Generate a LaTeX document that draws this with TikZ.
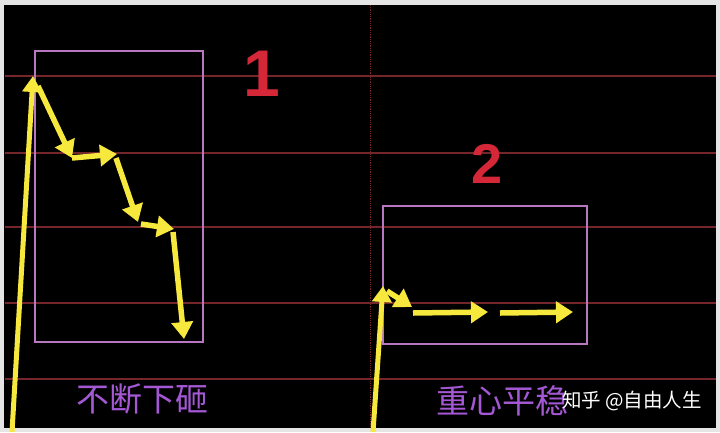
\documentclass[tikz,border=0pt]{standalone}
\usepackage{fontspec}
\setsansfont{Liberation Sans}
\newfontfamily\cjk{Noto Sans CJK SC}
\usetikzlibrary{arrows.meta}
\definecolor{gridred}{HTML}{74262A}
\definecolor{boxpink}{HTML}{B878C0}
\definecolor{arrowyel}{HTML}{F6E83C}
\definecolor{numred}{HTML}{D42838}
\definecolor{labelviolet}{HTML}{A458D4}

\begin{document}
\begin{tikzpicture}[
    x=1pt, y=-1pt,
    gridline/.style={draw=gridred, line width=1.5pt},
    framebox/.style={draw=boxpink, line width=1.6pt},
    yarrow/.style={draw=arrowyel, line width=5.5pt, -{Triangle[length=17pt, width=21pt]}},
    bigarrow/.style={draw=arrowyel, line width=5pt, -{Triangle[length=16pt, width=19pt]}},
    numlabel/.style={text=numred, font=\sffamily\bfseries\fontsize{66}{66}\selectfont},
    cnlabel/.style={text=labelviolet, font=\cjk\fontsize{33}{33}\selectfont},
    mark_style/.style={text=white, font=\cjk\fontsize{19.5}{19.5}\selectfont}
]

% Background
\fill[gray!20] (0,0) rectangle (720,432);
\fill[black] (4,5) rectangle (716,428);
\draw[white!80!gray, densely dotted, line width=1.5pt] (4,3) -- (716,3);
\useasboundingbox (0,0) rectangle (720,432);

% Grid lines
\foreach \y in {76,153,227,303,379}
  \draw[gridline] (5,\y) -- (716,\y);
\draw[gridred, densely dotted, line width=0.8pt] (370,5) -- (370,428);

% Boxes
\draw[framebox] (35,51) rectangle (203,342);
\draw[framebox] (383,206) rectangle (587,344);

% Numbers
\node[numlabel] (one) at (262,74) {1};
\node[numlabel, font=\sffamily\bfseries\fontsize{56}{56}\selectfont] (two) at (487,164) {2};

% Path 1: falling
\coordinate (a0) at (12,432);
\coordinate (a1) at (33,76);
\coordinate (a2) at (38,86);
\coordinate (a3) at (72,158);
\coordinate (a4) at (117,154);
\coordinate (a5) at (116,158);
\coordinate (a6) at (138,222);
\coordinate (a7) at (141,224);
\coordinate (a8) at (174,229);
\coordinate (a9) at (173,232);
\coordinate (a10) at (184,339);

\draw[bigarrow] (a0) -- (a1);
\draw[yarrow] (a2) -- (a3);
\draw[yarrow] (a3) -- (a4);
\draw[yarrow] (a5) -- (a6);
\draw[yarrow] (a7) -- (a8);
\draw[yarrow] (a9) -- (a10);

% Path 2: steady
\coordinate (b0) at (373,432);
\coordinate (b1) at (383,286);
\coordinate (b2) at (387,291);
\coordinate (b3) at (412,307);
\coordinate (b4) at (413,313);
\coordinate (b5) at (488,312);
\coordinate (b6) at (500,313);
\coordinate (b7) at (573,312);

\draw[bigarrow] (b0) -- (b1);
\draw[yarrow] (b2) -- (b3);
\draw[yarrow] (b4) -- (b5);
\draw[yarrow] (b6) -- (b7);

% Captions
\node[cnlabel] (fall) at (142,399) {不断下砸};
\node[cnlabel] (steady) at (502,401) {重心平稳};
\node[mark_style] (mark) at (632,401) {知乎 @自由人生};

\end{tikzpicture}
\end{document}
